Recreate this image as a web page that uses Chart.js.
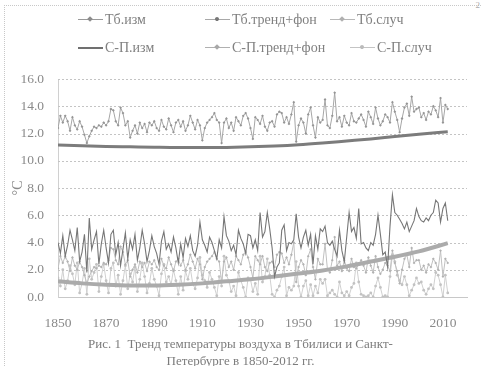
<!DOCTYPE html>
<html><head><meta charset="utf-8">
<script src="https://cdn.jsdelivr.net/npm/chart.js@4.4.1/dist/chart.umd.min.js"></script>
<style>
html,body{margin:0;padding:0;background:#fff;}
#wrap{position:relative;width:481px;height:366px;overflow:hidden;font-family:"Liberation Serif","Times New Roman",serif;color:#7a7a7a;}
#frame{position:absolute;left:4px;top:5px;width:480px;height:370px;border-left:1px dotted #c8c8c8;border-top:1px dotted #c8c8c8;}
#pg{position:absolute;right:1px;top:0px;font-size:9px;color:#aaa;font-family:"Liberation Serif",serif;}
canvas{position:absolute;left:0;top:0;}
.lg{position:absolute;font-family:"Liberation Serif","Times New Roman",serif;font-size:14px;line-height:15px;white-space:nowrap;color:#808080;}
.lg i{display:inline-block;position:relative;width:25px;height:0;border-top:1px solid #999;vertical-align:middle;margin-right:2px;top:-1px;}
.lg i b{position:absolute;left:10px;top:-3px;width:4px;height:4px;background:#999;transform:rotate(45deg);}
#cap{position:absolute;left:0;width:481px;top:335px;text-align:center;font-family:"Liberation Serif","Times New Roman",serif;font-size:13px;line-height:17px;color:#7c7c7c;}
</style></head>
<body><div id="wrap">
<div id="frame"></div><div id="pg">2</div>
<canvas id="c" width="481" height="366"></canvas>
<div class="lg" style="left:78px;top:12px"><i style="border-color:#9a9a9a"><b style="background:#8c8c8c"></b></i>Тб.изм</div>
<div class="lg" style="left:205px;top:12px"><i style="border-color:#a8a8a8"><b style="background:#777;border-radius:2px"></b></i>Тб.тренд+фон</div>
<div class="lg" style="left:330px;top:12px"><i style="border-color:#b8b8b8"><b style="background:#b0b0b0"></b></i>Тб.случ</div>
<div class="lg" style="left:78px;top:40px"><i style="border-color:#707070;border-top-width:2px"></i>С-П.изм</div>
<div class="lg" style="left:205px;top:40px"><i style="border-color:#b0b0b0"><b style="background:#a8a8a8"></b></i>С-П.тренд+фон</div>
<div class="lg" style="left:350px;top:40px"><i style="border-color:#c4c4c4"><b style="background:#bbb;border-radius:2px"></b></i>С-П.случ</div>
<div id="cap">Рис. 1&nbsp; Тренд температуры воздуха в Тбилиси и Санкт-<br>Петербурге в 1850-2012 гг.</div>
</div>
<script>
const firstYear = 1850, lastYear = 2012;
const years = [];
for (let y = firstYear; y <= lastYear; y++) years.push(y);

const xTickLabels = [1850, 1870, 1890, 1910, 1930, 1950, 1970, 1990, 2010];
const yTickLabels = [0, 2, 4, 6, 8, 10, 12, 14, 16];

const tbIzm = [
12.4,13.3,12.8,13.3,12.9,12.2,13.2,12.6,12.3,12.9,
12.5,11.9,11.3,11.8,12.2,12.5,12.4,12.6,12.5,12.8,
12.6,12.9,13.8,13.7,12.9,12.6,13.9,13.5,12.6,12.9,
11.7,12.2,12.6,12.0,12.8,12.4,12.7,12.1,12.8,12.6,
12.9,12.4,12.2,13.0,12.5,12.3,13.1,12.6,12.1,12.8,
13.0,12.5,12.9,12.2,12.6,13.3,12.8,12.3,13.0,12.6,
11.5,12.4,12.8,13.0,13.2,13.5,13.0,12.8,11.3,12.8,
13.1,12.4,12.8,12.2,13.2,12.9,12.6,13.3,13.5,13.1,
12.4,11.6,13.2,13.0,12.7,13.3,12.5,12.2,12.8,12.9,
12.5,13.4,13.6,13.5,12.8,13.2,12.7,13.4,14.3,11.4,
12.6,13.1,12.8,12.0,13.4,13.9,12.6,11.7,13.2,12.8,
13.0,14.5,12.6,12.4,13.3,15.0,12.9,13.2,12.5,13.3,
12.8,12.6,13.5,12.9,12.8,13.1,13.4,13.0,12.5,13.6,
13.2,12.7,13.9,13.1,12.6,12.9,13.4,13.2,12.8,14.3,
13.6,13.0,12.1,13.1,13.9,14.2,13.3,14.7,13.6,13.8,
13.9,13.2,13.5,13.0,13.6,13.4,14.0,13.7,13.2,14.6,
12.8,14.1,13.8];

const tbSluch = [
2.1,3.0,2.5,3.0,2.6,1.9,2.9,2.3,2.0,2.6,
2.2,1.6,1.0,1.5,1.9,2.2,2.1,2.3,2.2,2.5,
2.4,2.7,3.6,3.5,2.7,2.4,3.7,3.3,2.4,2.7,
1.5,2.0,2.4,1.8,2.6,2.2,2.5,1.9,2.6,2.4,
2.7,2.2,2.0,2.8,2.3,2.1,2.9,2.4,1.9,2.6,
2.8,2.3,2.7,2.0,2.4,3.1,2.6,2.1,2.8,2.4,
1.3,2.2,2.6,2.8,3.0,3.3,2.8,2.6,1.1,2.6,
2.9,2.2,2.6,2.0,3.0,2.7,2.4,3.1,3.3,2.9,
2.2,1.4,3.0,2.7,2.4,3.0,2.2,1.9,2.5,2.6,
2.2,3.1,3.3,3.2,2.5,2.9,2.4,3.1,4.0,1.1,
2.2,2.7,2.4,1.6,3.0,3.5,2.2,1.3,2.8,2.4,
2.4,3.9,2.0,1.8,2.7,4.4,2.3,2.6,1.9,2.7,
2.1,1.9,2.8,2.2,2.1,2.4,2.7,2.3,1.8,2.9,
2.3,1.8,3.0,2.2,1.7,2.0,2.5,2.3,1.9,3.4,
2.5,1.9,1.0,2.0,2.8,3.1,2.2,3.6,2.5,2.7,
2.7,2.0,2.3,1.8,2.4,2.2,2.8,2.5,2.0,3.4,
1.5,2.8,2.5];

const spIzm = [
4.0,3.2,4.5,3.0,3.8,4.9,4.2,3.4,5.1,2.6,
3.3,4.6,1.8,5.8,3.5,4.2,4.8,2.4,3.9,4.9,
3.6,2.5,4.6,4.9,3.1,4.0,2.3,3.5,4.7,2.8,
4.2,3.5,4.6,2.7,3.6,4.9,3.9,2.6,3.4,4.5,
3.7,3.2,2.4,4.1,4.8,3.5,3.9,3.3,4.4,3.6,
2.5,3.9,2.9,4.3,3.7,4.5,3.4,3.0,3.8,5.5,
4.2,3.8,3.3,4.4,4.0,3.4,2.8,4.2,3.6,5.9,
4.5,4.1,3.4,3.8,3.1,4.9,4.3,3.9,3.2,4.6,
4.5,3.6,4.2,3.4,6.2,4.4,4.8,6.2,5.0,3.6,
1.5,2.2,2.5,4.9,5.3,3.4,4.0,3.9,4.2,6.1,
4.4,3.6,4.4,4.9,3.8,4.6,2.4,4.5,3.5,5.0,
4.8,5.2,4.0,3.8,4.1,3.5,3.0,4.9,3.4,2.6,
4.4,6.2,4.8,5.1,4.3,6.5,3.9,4.0,3.6,3.4,
4.0,3.8,4.6,6.0,4.6,3.1,3.3,2.2,5.2,7.5,
6.2,6.0,5.7,5.4,5.0,5.5,4.8,5.2,5.6,6.5,
5.9,5.6,5.5,5.8,5.6,6.0,6.2,7.1,6.9,5.5,
6.5,6.9,5.6];

const spSluch = [
1.4,0.8,2.0,0.6,1.2,2.3,1.7,0.9,2.5,0.3,
1.0,2.1,0.2,2.8,1.3,1.8,2.4,0.4,1.5,2.4,
1.2,0.3,2.1,2.5,0.8,1.6,0.2,1.2,2.3,0.6,
1.7,1.1,2.2,0.4,1.3,2.5,1.5,0.3,1.0,2.1,
1.3,0.8,0.1,1.7,2.4,1.1,1.5,0.9,2.0,1.2,
0.2,1.5,0.5,1.9,1.3,2.1,1.0,0.6,1.4,2.9,
1.6,1.2,0.7,1.8,1.3,0.7,0.1,1.5,0.8,3.0,
1.6,1.2,0.4,0.8,0.1,1.8,1.2,0.7,0.0,1.4,
1.3,0.4,1.0,0.2,3.0,1.1,1.5,2.8,1.6,0.2,
0.0,0.5,0.8,1.5,2.2,0.1,0.7,0.5,0.8,2.6,
0.8,0.0,0.8,1.2,0.1,0.9,0.1,0.8,0.3,1.3,
1.0,1.3,0.1,0.3,0.5,0.2,0.0,1.1,0.3,0.1,
0.4,0.1,0.7,1.0,2.5,1.1,0.2,0.1,0.0,0.1,
0.3,0.0,0.8,1.4,0.7,0.0,0.1,0.0,1.5,3.1,
2.6,1.6,1.2,0.9,1.5,0.9,0.1,0.5,0.9,1.4,
1.0,1.1,0.5,0.2,0.6,0.9,0.6,1.8,1.6,0.9,
0.0,1.6,0.3];

const trendYears = [1850,1860,1870,1880,1890,1900,1910,1920,1930,1940,1950,1960,1970,1980,1990,2000,2012];
const tbTrend = [11.15,11.10,11.05,11.02,10.99,10.97,10.97,10.98,11.02,11.08,11.17,11.30,11.45,11.60,11.78,11.95,12.13];
const spTrend = [1.15,1.00,0.90,0.85,0.85,0.90,1.00,1.15,1.30,1.50,1.72,1.95,2.25,2.60,2.95,3.35,3.95];

const pts = (xs, ys) => xs.map((x, i) => ({x: x, y: ys[i]}));

const dottedGrid = {
  id:'dottedGrid',
  beforeDatasetsDraw(chart){
    const {ctx, chartArea:a, scales:{y}} = chart;
    ctx.save();
    ctx.strokeStyle = '#c4c4c4';
    ctx.lineWidth = 1;
    ctx.setLineDash([2,2]);
    y.ticks.forEach(t => {
      if (t.value === 0) return;
      const py = Math.round(y.getPixelForValue(t.value)) + 0.5;
      ctx.beginPath(); ctx.moveTo(a.left, py); ctx.lineTo(a.right, py); ctx.stroke();
    });
    ctx.restore();
  }
};

new Chart(document.getElementById('c'), {
  type: 'line',
  data: { datasets: [
    {label:'Тб.тренд+фон', data: pts(trendYears, tbTrend), borderColor:'#7c7c7c', borderWidth:3, pointRadius:0, tension:0.4, cubicInterpolationMode:'monotone', order:2},
    {label:'Тб.изм', data: pts(years, tbIzm), borderColor:'#a6a6a6', backgroundColor:'#959595', borderWidth:1, pointStyle:'rectRot', pointRadius:1.4, pointBorderWidth:0, order:1},
    {label:'Тб.случ', data: pts(years, tbSluch), borderColor:'#c0c0c0', backgroundColor:'#b2b2b2', borderWidth:1, pointStyle:'rectRot', pointRadius:1.4, pointBorderWidth:0, order:4},
    {label:'С-П.случ', data: pts(years, spSluch), borderColor:'#d0d0d0', backgroundColor:'#c2c2c2', borderWidth:1, pointStyle:'circle', pointRadius:1.4, pointBorderWidth:0, order:5},
    {label:'С-П.тренд+фон', data: pts(trendYears, spTrend), borderColor:'#ababab', borderWidth:4, pointRadius:0, tension:0.4, cubicInterpolationMode:'monotone', order:3},
    {label:'С-П.изм', data: pts(years, spIzm), borderColor:'#767676', borderWidth:1.1, pointRadius:0, order:0}
  ]},
  options: {
    responsive:false, animation:false, events:[],
    layout:{padding:{top:79,right:14,left:0,bottom:0}},
    plugins:{legend:{display:false}, tooltip:{enabled:false}},
    scales:{
      x:{type:'linear', min:1850, max:2020,
        afterBuildTicks: s => { s.ticks = xTickLabels.map(v => ({value:v})); },
        afterFit: s => { s.height = 69; },
        grid:{display:false, drawTicks:false},
        border:{display:true, color:'#c8c8c8', dash:[2,2]},
        ticks:{padding:18, maxRotation:0, autoSkip:false, color:'#8a8a8a', font:{family:'Liberation Serif', size:13.5}, callback: v => String(v)}
      },
      y:{min:0, max:16,
        afterBuildTicks: s => { s.ticks = yTickLabels.map(v => ({value:v})); },
        afterFit: s => { s.width = 58; },
        grid:{display:false, drawTicks:false},
        border:{display:true, color:'#d0d0d0', dash:[2,2]},
        ticks:{padding:14, color:'#8a8a8a', font:{family:'Liberation Serif', size:13.5}, callback: v => Number(v).toFixed(1)},
        title:{display:true, text:'°C', color:'#8a8a8a', font:{family:'Liberation Serif', size:14}, padding:{top:10, bottom:0}}
      }
    }
  },
  plugins:[dottedGrid]
});
</script>
</body></html>
